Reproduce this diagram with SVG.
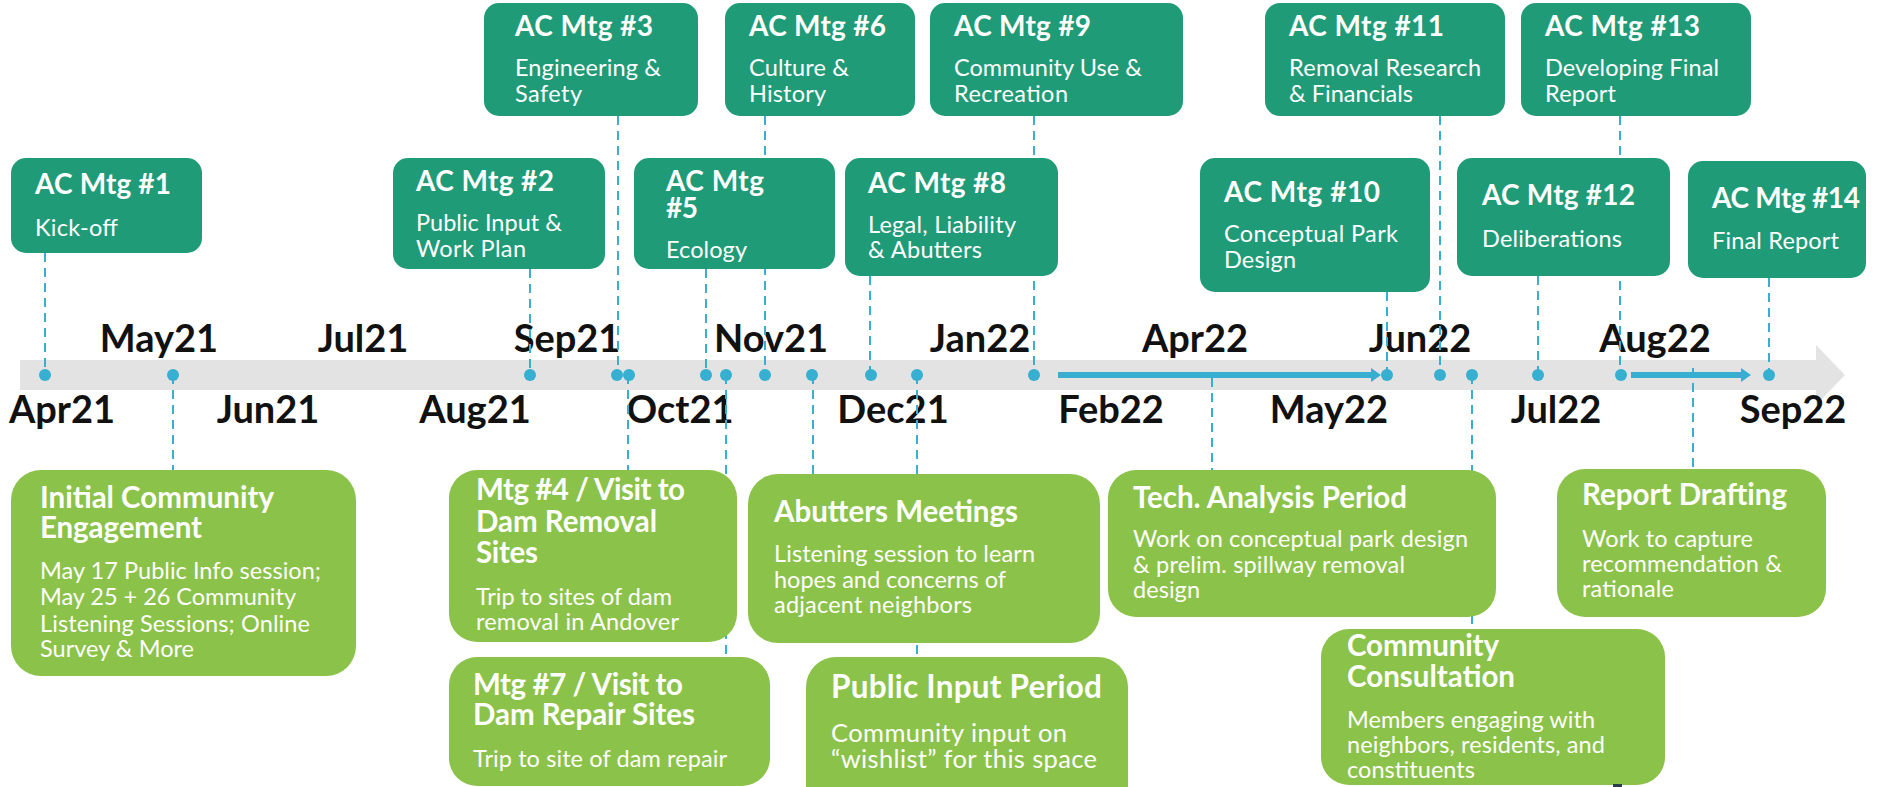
<svg xmlns="http://www.w3.org/2000/svg" width="1899" height="787" viewBox="0 0 1899 787">
<defs>
<style>
.band{fill:#e3e3e3}
.mon{font-family:Lato,"Noto Sans",sans-serif;font-weight:700;font-size:38px;fill:#111;text-anchor:middle}
.con{stroke:#36afd0;stroke-width:2;stroke-dasharray:9 6;fill:none}
.dot{fill:#36afd0}
.thick{stroke:#36afd0;stroke-width:6;fill:none;marker-end:url(#ah)}
.dk{fill:#1f9b78}
.lt{fill:#8bc249}
.t{font-family:Lato,"Noto Sans",sans-serif;font-weight:700;fill:#fff}
.s{font-family:Lato,"Noto Sans",sans-serif;font-weight:400;fill:#fff}
.tt{font-size:28px}
.ss{font-size:23.5px}
.bt{font-size:29.5px}
.bs{font-size:23.5px}
</style>
<marker id="ah" viewBox="0 0 10 14" refX="2" refY="7" markerWidth="10" markerHeight="14" markerUnits="userSpaceOnUse" orient="auto">
<path d="M0,0 L10,7 L0,14 Z" fill="#36afd0"/>
</marker>
</defs>

<g id="timeline">
<path class="band" d="M20,360 H1816 V345 L1845,375 L1816,405 V390 H20 Z"/>
<text class="mon" x="159" y="352">May21</text>
<text class="mon" x="363" y="352">Jul21</text>
<text class="mon" x="567" y="352">Sep21</text>
<text class="mon" x="771" y="352">Nov21</text>
<text class="mon" x="980" y="352">Jan22</text>
<text class="mon" x="1195" y="352">Apr22</text>
<text class="mon" x="1420" y="352">Jun22</text>
<text class="mon" x="1655" y="352">Aug22</text>
<text class="mon" x="62" y="423">Apr21</text>
<text class="mon" x="268" y="423">Jun21</text>
<text class="mon" x="475" y="423">Aug21</text>
<text class="mon" x="680" y="423">Oct21</text>
<text class="mon" x="893" y="423">Dec21</text>
<text class="mon" x="1111" y="423">Feb22</text>
<text class="mon" x="1329" y="423">May22</text>
<text class="mon" x="1556" y="423">Jul22</text>
<text class="mon" x="1793" y="423">Sep22</text>
</g>

<g id="connectors">
<path class="con" d="M45,253V375 M530,269V375 M618,116V375 M706,269V375 M765,116V375 M870,276V375 M1034,116V375 M1387,292V375 M1440,116V375 M1538,276V375 M1620,116V375 M1769,278V375"/>
<path class="con" d="M173,375V470 M628,375V470 M726,375V657 M813,375V474 M917,375V657 M1212,378V470 M1472,375V629 M1693,368V469"/>
<line class="thick" x1="1058" y1="375" x2="1373" y2="375"/>
<line class="thick" x1="1631" y1="375" x2="1743" y2="375"/>
<g class="dot">
<circle cx="45" cy="375" r="6"/><circle cx="173" cy="375" r="6"/><circle cx="530" cy="375" r="6"/><circle cx="617" cy="375" r="6"/><circle cx="629" cy="375" r="6"/><circle cx="706" cy="375" r="6"/><circle cx="726" cy="375" r="6"/><circle cx="765" cy="375" r="6"/><circle cx="812" cy="375" r="6"/><circle cx="871" cy="375" r="6"/><circle cx="917" cy="375" r="6"/><circle cx="1034" cy="375" r="6"/><circle cx="1387" cy="375" r="6"/><circle cx="1440" cy="375" r="6"/><circle cx="1472" cy="375" r="6"/><circle cx="1538" cy="375" r="6"/><circle cx="1621" cy="375" r="6"/><circle cx="1769" cy="375" r="6"/>
</g>
</g>

<g id="ac1"><rect class="dk" x="11" y="158" width="191" height="95" rx="15"/><text class="t tt" x="35" y="194" textLength="136">AC Mtg #1</text><text class="s ss" x="35" y="236" textLength="83">Kick-off</text></g>
<g id="ac2"><rect class="dk" x="393" y="158" width="212" height="111" rx="15"/><text class="t tt" x="416" y="191" textLength="138">AC Mtg #2</text><text class="s ss" x="416" y="231" textLength="146">Public Input &amp;</text><text class="s ss" x="416" y="257" textLength="110">Work Plan</text></g>
<g id="ac3"><rect class="dk" x="484" y="3" width="214" height="113" rx="15"/><text class="t tt" x="515" y="36" textLength="138">AC Mtg #3</text><text class="s ss" x="515" y="76" textLength="146">Engineering &amp;</text><text class="s ss" x="515" y="102" textLength="67">Safety</text></g>
<g id="ac5"><rect class="dk" x="634" y="158" width="201" height="111" rx="15"/><text class="t tt" x="666" y="191" textLength="98">AC Mtg</text><text class="t tt" x="666" y="218" textLength="32">#5</text><text class="s ss" x="666" y="258" textLength="81">Ecology</text></g>
<g id="ac6"><rect class="dk" x="725" y="3" width="190" height="113" rx="15"/><text class="t tt" x="749" y="36" textLength="137">AC Mtg #6</text><text class="s ss" x="749" y="76" textLength="100">Culture &amp;</text><text class="s ss" x="749" y="102" textLength="77">History</text></g>
<g id="ac8"><rect class="dk" x="845" y="158" width="213" height="118" rx="15"/><text class="t tt" x="868" y="193" textLength="138">AC Mtg #8</text><text class="s ss" x="868" y="233" textLength="148">Legal, Liability</text><text class="s ss" x="868" y="258" textLength="114">&amp; Abutters</text></g>
<g id="ac9"><rect class="dk" x="930" y="3" width="253" height="113" rx="15"/><text class="t tt" x="954" y="36" textLength="137">AC Mtg #9</text><text class="s ss" x="954" y="76" textLength="188">Community Use &amp;</text><text class="s ss" x="954" y="102" textLength="114">Recreation</text></g>
<g id="ac10"><rect class="dk" x="1200" y="158" width="230" height="134" rx="15"/><text class="t tt" x="1224" y="202" textLength="156">AC Mtg #10</text><text class="s ss" x="1224" y="242" textLength="174">Conceptual Park</text><text class="s ss" x="1224" y="268" textLength="72">Design</text></g>
<g id="ac11"><rect class="dk" x="1265" y="3" width="240" height="113" rx="15"/><text class="t tt" x="1289" y="36" textLength="155">AC Mtg #11</text><text class="s ss" x="1289" y="76" textLength="192">Removal Research</text><text class="s ss" x="1289" y="102" textLength="124">&amp; Financials</text></g>
<g id="ac12"><rect class="dk" x="1457" y="158" width="213" height="118" rx="15"/><text class="t tt" x="1482" y="205" textLength="153">AC Mtg #12</text><text class="s ss" x="1482" y="247" textLength="140">Deliberations</text></g>
<g id="ac13"><rect class="dk" x="1521" y="3" width="230" height="113" rx="15"/><text class="t tt" x="1545" y="36" textLength="155">AC Mtg #13</text><text class="s ss" x="1545" y="76" textLength="174">Developing Final</text><text class="s ss" x="1545" y="102" textLength="71">Report</text></g>
<g id="ac14"><rect class="dk" x="1688" y="161" width="178" height="117" rx="15"/><text class="t tt" x="1712" y="208" textLength="148">AC Mtg #14</text><text class="s ss" x="1712" y="249" textLength="127">Final Report</text></g>

<g id="initial"><rect class="lt" x="11" y="470" width="345" height="206" rx="30"/><text class="t bt" x="40" y="508" textLength="234">Initial Community</text><text class="t bt" x="40" y="538" textLength="162">Engagement</text><text class="s bs" x="40" y="579" textLength="281">May 17 Public Info session;</text><text class="s bs" x="40" y="605" textLength="256">May 25 + 26 Community</text><text class="s bs" x="40" y="632" textLength="270">Listening Sessions; Online</text><text class="s bs" x="40" y="657" textLength="154">Survey &amp; More</text></g>
<g id="mtg4"><rect class="lt" x="449" y="470" width="288" height="172" rx="28"/><text class="t bt" x="476" y="500" textLength="209">Mtg #4 / Visit to</text><text class="t bt" x="476" y="532" textLength="181">Dam Removal</text><text class="t bt" x="476" y="563" textLength="62">Sites</text><text class="s bs" x="476" y="605" textLength="196">Trip to sites of dam</text><text class="s bs" x="476" y="630" textLength="203">removal in Andover</text></g>
<g id="mtg7"><rect class="lt" x="449" y="657" width="321" height="129" rx="28"/><text class="t bt" x="473" y="695" textLength="210">Mtg #7 / Visit to</text><text class="t bt" x="473" y="725" textLength="222">Dam Repair Sites</text><text class="s bs" x="473" y="767" textLength="254">Trip to site of dam repair</text></g>
<g id="abutters"><rect class="lt" x="748" y="474" width="352" height="169" rx="30"/><text class="t bt" x="774" y="522" textLength="244">Abutters Meetings</text><text class="s bs" x="774" y="562" textLength="261">Listening session to learn</text><text class="s bs" x="774" y="588" textLength="232">hopes and concerns of</text><text class="s bs" x="774" y="613" textLength="198">adjacent neighbors</text></g>
<g id="public"><rect class="lt" x="806" y="657" width="322" height="160" rx="30"/><text class="t" font-size="31.5" x="831" y="698" textLength="271">Public Input Period</text><text class="s" font-size="25.5" x="831" y="742" textLength="236">Community input on</text><text class="s" font-size="25.5" x="831" y="768" textLength="266">“wishlist” for this space</text></g>
<g id="tech"><rect class="lt" x="1108" y="470" width="388" height="147" rx="28"/><text class="t bt" x="1133" y="508" textLength="274">Tech. Analysis Period</text><text class="s bs" x="1133" y="547" textLength="335">Work on conceptual park design</text><text class="s bs" x="1133" y="573" textLength="272">&amp; prelim. spillway removal</text><text class="s bs" x="1133" y="598" textLength="67">design</text></g>
<g id="consult"><rect class="lt" x="1321" y="629" width="344" height="156" rx="28"/><text class="t bt" x="1347" y="656" textLength="152">Community</text><text class="t bt" x="1347" y="687" textLength="168">Consultation</text><text class="s bs" x="1347" y="728" textLength="248">Members engaging with</text><text class="s bs" x="1347" y="753" textLength="258">neighbors, residents, and</text><text class="s bs" x="1347" y="778" textLength="128">constituents</text></g>
<g id="drafting"><rect class="lt" x="1557" y="469" width="269" height="148" rx="28"/><text class="t bt" x="1582" y="505" textLength="205">Report Drafting</text><text class="s bs" x="1582" y="547" textLength="171">Work to capture</text><text class="s bs" x="1582" y="572" textLength="200">recommendation &amp;</text><text class="s bs" x="1582" y="597" textLength="92">rationale</text></g>
<rect x="1613" y="784" width="9" height="3" fill="#2d3b4f"/>
</svg>
